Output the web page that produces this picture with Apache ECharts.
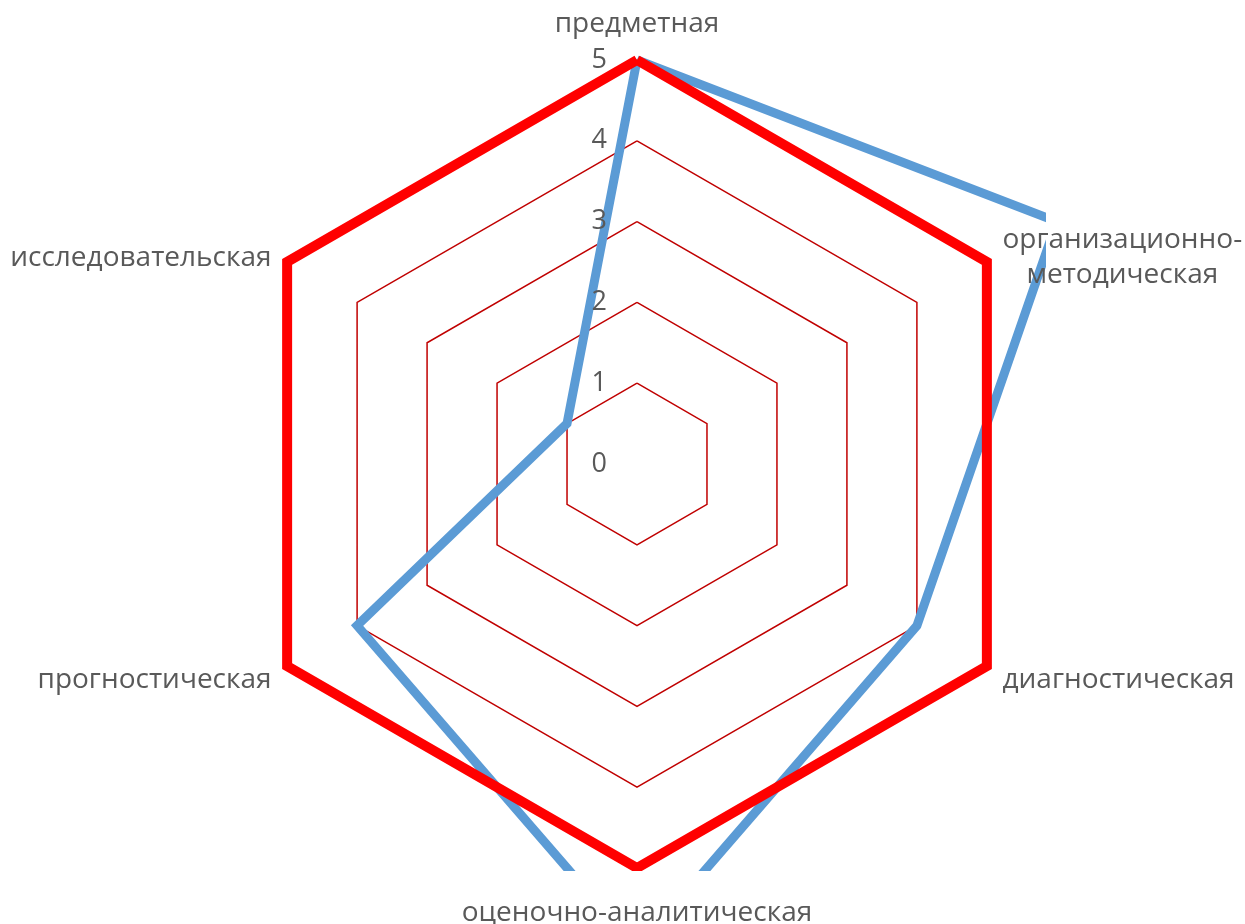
<!doctype html>
<html>
<head>
<meta charset="utf-8">
<title>radar</title>
<style>html,body{margin:0;padding:0;background:#fff}#main{width:1245px;height:924px}</style>
</head>
<body>
<div id="main"></div>
<script src="https://cdn.jsdelivr.net/npm/echarts@6/dist/echarts.min.js"></script>
<script>
var categories = ['предметная', 'организационно-\nметодическая', 'диагностическая', 'оценочно-аналитическая', 'прогностическая', 'исследовательская'];
var blueValues = [5, 6, 4, 6, 4, 1];
var redValues = [5, 5, 5, 5, 5, 5];
var axisMax = 5;

// excel goes clockwise, echarts radar counter-clockwise
var order = [0, 5, 4, 3, 2, 1];
function pick(arr) { return order.map(function (i) { return arr[i]; }); }

function indicators(withLabel) {
    return pick(categories).map(function (name, i) {
        var ind = { name: name, min: 0, max: axisMax };
        if (withLabel) ind.axisLabel = { show: i === 0 };
        return ind;
    });
}

var myChart = echarts.init(document.getElementById('main'));
var gray = '#595959';
var font = 'Open Sans';

var option = {
    animation: false,
    backgroundColor: '#fff',
    radar: [{
        // grid + series
        center: [637, 464],
        radius: 404,
        splitNumber: 5,
        shape: 'polygon',
        z: 0,
        indicator: indicators(false),
        axisName: { show: false },
        axisLine: { show: false },
        axisTick: { show: false },
        axisLabel: { show: false },
        splitArea: { show: false },
        splitLine: { lineStyle: { color: '#c00000', width: 1.5 } }
    }, {
        // names + tick labels on top of the clipped lines
        center: [637, 464],
        radius: 404,
        splitNumber: 5,
        shape: 'polygon',
        z: 10,
        indicator: indicators(true),
        nameGap: 18,
        axisName: {
            show: true,
            color: gray,
            fontSize: 28,
            fontFamily: font,
            padding: [10, 0, 0, 0],
            formatter: function (name) {
                return name.split('\n').map(function (s) { return '{c|' + s + '}'; }).join('\n');
            },
            rich: { c: { align: 'center', color: gray, fontSize: 28, fontFamily: font, lineHeight: 35 } }
        },
        axisLine: { show: false },
        axisTick: { show: false },
        axisLabel: { show: true, color: gray, fontSize: 27, fontFamily: font, margin: 30, padding: [6, 0, 0, 0] },
        splitArea: { show: false },
        splitLine: { show: false }
    }],
    graphic: [
        { type: 'rect', z: 5, silent: true, shape: { x: 1046, y: 0, width: 200, height: 924 }, style: { fill: '#fff' } },
        { type: 'rect', z: 5, silent: true, shape: { x: 0, y: 871, width: 1245, height: 60 }, style: { fill: '#fff' } }
    ],
    series: [{
        type: 'radar',
        radarIndex: 0,
        symbol: 'none',
        z: 2,
        lineStyle: { color: '#5b9bd5', width: 9, join: 'miter' },
        data: [{ value: pick(blueValues) }]
    }, {
        type: 'radar',
        radarIndex: 0,
        symbol: 'none',
        z: 3,
        lineStyle: { color: '#ff0000', width: 10, join: 'miter' },
        data: [{ value: pick(redValues) }]
    }]
};

myChart.setOption(option);
</script>
</body>
</html>
